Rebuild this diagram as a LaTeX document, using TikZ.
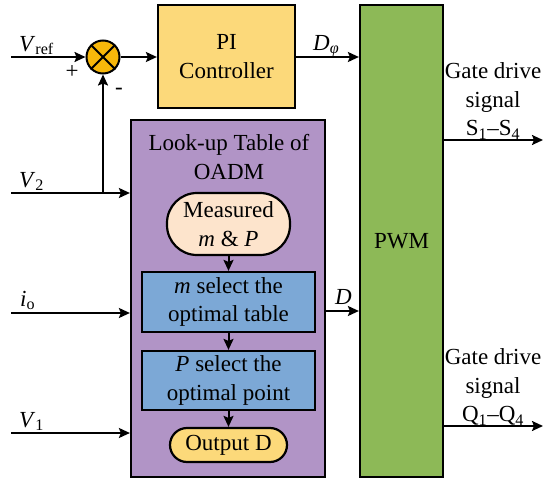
\documentclass[tikz,border=0pt]{standalone}
\usepackage{fontspec}
\setmainfont{Liberation Serif}
\usetikzlibrary{arrows.meta}
\definecolor{piyel}{RGB}{252,217,122}
\definecolor{sumor}{RGB}{247,183,10}
\definecolor{pwmgr}{RGB}{141,185,87}
\definecolor{lutpu}{RGB}{177,148,198}
\definecolor{peach}{RGB}{253,228,204}
\definecolor{bluebx}{RGB}{124,168,214}
\begin{document}
\begin{tikzpicture}[x=1pt,y=-1pt,
  every node/.style={font=\rmfamily\fontsize{23}{28.5}\selectfont, inner sep=0pt},
  blk/.style={draw, line width=2.2pt, rectangle, align=center},
  conn/.style={line width=2pt, -{Stealth[length=11pt,width=10pt,inset=2pt]}},
  lbl/.style={anchor=base west}]
\useasboundingbox (0,0) rectangle (550,485);
% blocks
\node[blk, fill=piyel, minimum width=137pt, minimum height=103pt] (pi) at (226.5,56.5) {PI\\Controller};
\node[blk, fill=pwmgr, minimum width=83pt, minimum height=472pt] (pwm) at (401.5,241) {PWM};
\node[blk, fill=lutpu, minimum width=194pt, minimum height=357pt] (lut) at (228,298.5) {};
\node[align=center] (luttxt) at (229,157) {Look-up Table of\\OADM};
\node[blk, fill=peach, minimum width=123pt, minimum height=62pt, rounded corners=30pt] (meas) at (228.5,224) {Measured\\\textit{m} \& \textit{P}};
\node[blk, fill=bluebx, minimum width=173pt, minimum height=60pt] (b1) at (228.5,302) {\textit{m} select the\\optimal table};
\node[blk, fill=bluebx, minimum width=173pt, minimum height=59pt] (b2) at (228.5,380.5) {\textit{P} select the\\optimal point};
\node[blk, fill=piyel, minimum width=117pt, minimum height=34pt, rounded corners=17pt] (outd) at (228.5,445) {Output D};
% summing junction
\node[draw, circle, line width=2pt, fill=sumor, minimum size=33pt] (sum) at (103,57) {};
\draw[line width=2pt] (sum.north east) -- (sum.south west) (sum.north west) -- (sum.south east);
% inputs
\coordinate (vref) at (11,57);
\coordinate (v2) at (11,193);
\coordinate (io) at (11,313);
\coordinate (v1) at (11,433);
\coordinate (dy) at (0,311);
\coordinate (sy) at (0,140);
\coordinate (qy) at (0,426);
\coordinate (send) at (543,140);
\coordinate (qend) at (543,426);
\draw[conn] (vref) -- (sum.west);
\draw[conn] (sum.east) -- (pi.west |- sum.east);
\draw[conn] (pi.east |- sum.east) -- (pwm.west |- sum.east);
\draw[conn] (v2) -- (v2 -| lut.west);
\draw[conn] (v2 -| sum) -- (sum.south);
\draw[conn] (io) -- (io -| lut.west);
\draw[conn] (v1) -- (v1 -| lut.west);
\draw[conn] (dy -| lut.east) -- (dy -| pwm.west);
\draw[conn] (sy -| pwm.east) -- (send);
\draw[conn] (qy -| pwm.east) -- (qend);
% internal flow
\draw[conn] (meas.south) -- (b1.north);
\draw[conn] (b1.south) -- (b2.north);
\draw[conn] (b2.south) -- (outd.north);
% labels
\node[lbl] (lvref) at (19,51) {\textit{V}\textsubscript{ref}};
\node[lbl] (lv2) at (19,187) {\textit{V}\textsubscript{2}};
\node[lbl] (lio) at (20,306) {\textit{i}\textsubscript{o}};
\node[lbl] (lv1) at (19,427) {\textit{V}\textsubscript{1}};
\node[lbl] (ldphi) at (313,50) {\textit{D}\textsubscript{\textit{φ}}};
\node[lbl] (ld) at (335,304) {\textit{D}};
\node (plus) at (72,72) {+};
\node (minus) at (119,91) {-};
\node[align=center] (gs) at (493,101) {Gate drive\\signal\\S\textsubscript{1}–S\textsubscript{4}};
\node[align=center] (gq) at (493,387) {Gate drive\\signal\\Q\textsubscript{1}–Q\textsubscript{4}};
\end{tikzpicture}
\end{document}
